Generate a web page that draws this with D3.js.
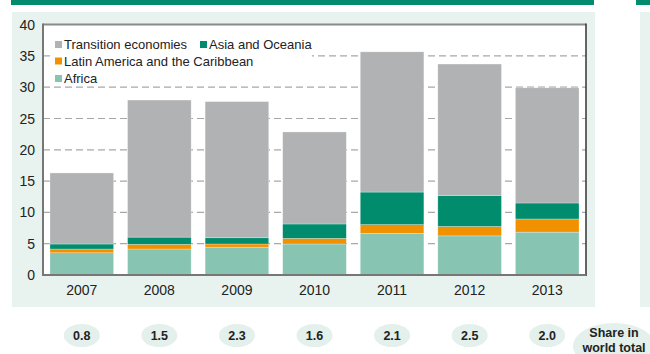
<!DOCTYPE html>
<html>
<head>
<meta charset="utf-8">
<script src="https://cdn.jsdelivr.net/npm/d3@7"></script>
<style>
  body { margin: 0; background: #fff; }
  text { font-family: "Liberation Sans", Arial, sans-serif; fill: #222; }
</style>
</head>
<body>
<div id="container"></div>
<script>
let w = 650;
let h = 354;

// data
let years = ["2007", "2008", "2009", "2010", "2011", "2012", "2013"];
let africa = [3.55, 4.15, 4.45, 4.95, 6.65, 6.25, 6.85];
let latinAmerica = [0.6, 0.75, 0.5, 0.9, 1.4, 1.5, 2.1];
let asiaOceania = [0.8, 1.15, 1.0, 2.3, 5.2, 4.95, 2.55];
let transition = [11.35, 21.9, 21.75, 14.7, 22.4, 21.0, 18.4];
let worldShare = ["0.8", "1.5", "2.3", "1.6", "2.1", "2.5", "2.0"];
let yTicks = [0, 5, 10, 15, 20, 25, 30, 35, 40];

let seriesNames = ["Africa", "Latin America and the Caribbean", "Asia and Oceania", "Transition economies"];
let seriesColors = ["#88c4b2", "#f29100", "#008c6d", "#b1b2b4"];

let table = years.map(function(y, i){
  return {
    year: y,
    "Africa": africa[i],
    "Latin America and the Caribbean": latinAmerica[i],
    "Asia and Oceania": asiaOceania[i],
    "Transition economies": transition[i]
  };
});

let plot = {left: 43, right: 586, top: 24.6, bottom: 275};

let viz = d3.select("#container")
  .append("svg")
    .attr("width", w)
    .attr("height", h);

// green header strips and panel backgrounds
viz.append("rect").attr("x", 11).attr("y", 0).attr("width", 583).attr("height", 5).attr("fill", "#008c6d");
viz.append("rect").attr("x", 636).attr("y", 0).attr("width", 20).attr("height", 5).attr("fill", "#008c6d");
viz.append("rect").attr("x", 12).attr("y", 12).attr("width", 583).attr("height", 295).attr("fill", "#e8f3ef");
viz.append("rect").attr("x", 640).attr("y", 12).attr("width", 20).attr("height", 295).attr("fill", "#e8f3ef");

// plot area
viz.append("rect")
  .attr("x", plot.left).attr("y", plot.top)
  .attr("width", plot.right - plot.left).attr("height", plot.bottom - plot.top)
  .attr("fill", "#fff");

let xScale = d3.scaleBand().domain(years).range([plot.left, plot.right]).paddingInner(0.18).paddingOuter(0.09);
let yScale = d3.scaleLinear().domain([0, 40]).range([plot.bottom, plot.top]);

// gridlines
viz.append("g").selectAll("line").data(yTicks.filter(function(t){ return t > 0 && t < 40; }))
  .enter().append("line")
    .attr("x1", plot.left).attr("x2", plot.right)
    .attr("y1", function(d){ return yScale(d); })
    .attr("y2", function(d){ return yScale(d); })
    .attr("stroke", "#a8a8a8")
    .attr("stroke-width", 1.2)
    .attr("stroke-dasharray", "7,4");

// stacked bars
let stack = d3.stack().keys(seriesNames);
let layers = stack(table);

let barGroup = viz.append("g");
layers.forEach(function(layer, li){
  barGroup.append("g").selectAll("rect").data(layer)
    .enter().append("rect")
      .attr("x", function(d){ return xScale(d.data.year); })
      .attr("width", xScale.bandwidth())
      .attr("y", function(d){ return yScale(d[1]); })
      .attr("height", function(d){ return yScale(d[0]) - yScale(d[1]); })
      .attr("fill", seriesColors[li])
      .attr("stroke", "#fff")
      .attr("stroke-opacity", 0.45)
      .attr("stroke-width", 0.6);
});

// legend (white box hides the gridline behind it)
viz.append("rect").attr("x", 50).attr("y", 36).attr("width", 262).attr("height", 46).attr("fill", "#fff");
let legendItems = [
  {name: "Transition economies", color: seriesColors[3], x: 55, y: 44.5},
  {name: "Asia and Oceania", color: seriesColors[2], x: 200, y: 44.5},
  {name: "Latin America and the Caribbean", color: seriesColors[1], x: 55, y: 61},
  {name: "Africa", color: seriesColors[0], x: 55, y: 78.5}
];
let legend = viz.append("g").selectAll("g").data(legendItems).enter().append("g")
  .attr("transform", function(d){ return "translate(" + d.x + "," + d.y + ")"; });
legend.append("rect").attr("x", 0).attr("y", -3.5).attr("width", 7).attr("height", 7)
  .attr("fill", function(d){ return d.color; });
legend.append("text").attr("x", 9).attr("y", 4.6).attr("font-size", 13)
  .text(function(d){ return d.name; });

// y axis labels
viz.append("g").selectAll("text").data(yTicks).enter().append("text")
  .attr("x", 35).attr("y", function(d){ return yScale(d) + 5; })
  .attr("text-anchor", "end").attr("font-size", 14)
  .text(function(d){ return d; });

// x axis labels
viz.append("g").selectAll("text").data(years).enter().append("text")
  .attr("x", function(d){ return xScale(d) + xScale.bandwidth() / 2; })
  .attr("y", 295).attr("text-anchor", "middle").attr("font-size", 14)
  .text(function(d){ return d; });

// frame
viz.append("line").attr("x1", plot.left).attr("x2", plot.right).attr("y1", plot.top).attr("y2", plot.top)
  .attr("stroke", "#8a8a8a").attr("stroke-width", 2);
viz.append("line").attr("x1", plot.right).attr("x2", plot.right).attr("y1", plot.top - 1).attr("y2", plot.bottom + 1)
  .attr("stroke", "#333").attr("stroke-width", 1.5);
viz.append("line").attr("x1", plot.left).attr("x2", plot.left).attr("y1", plot.top - 1).attr("y2", plot.bottom + 1)
  .attr("stroke", "#777").attr("stroke-width", 2);
viz.append("line").attr("x1", plot.left).attr("x2", plot.right).attr("y1", plot.bottom).attr("y2", plot.bottom)
  .attr("stroke", "#777").attr("stroke-width", 2);

// share in world total bubbles
let shares = viz.append("g").selectAll("g").data(worldShare).enter().append("g")
  .attr("transform", function(d, i){ return "translate(" + (xScale(years[i]) + xScale.bandwidth() / 2) + ",335.5)"; });
shares.append("ellipse").attr("rx", 18).attr("ry", 11.5).attr("fill", "#e3f0eb");
shares.append("text").attr("y", 4.5).attr("text-anchor", "middle").attr("font-size", 12.5).attr("font-weight", "bold")
  .text(function(d){ return d; });

let shareLabel = viz.append("g").attr("transform", "translate(614,346)");
shareLabel.append("ellipse").attr("rx", 41).attr("ry", 23).attr("fill", "#e3f0eb");
shareLabel.append("text").attr("y", -9).attr("text-anchor", "middle").attr("font-size", 12.5).attr("font-weight", "bold").text("Share in");
shareLabel.append("text").attr("y", 6).attr("text-anchor", "middle").attr("font-size", 12.5).attr("font-weight", "bold").text("world total");
</script>
</body>
</html>
